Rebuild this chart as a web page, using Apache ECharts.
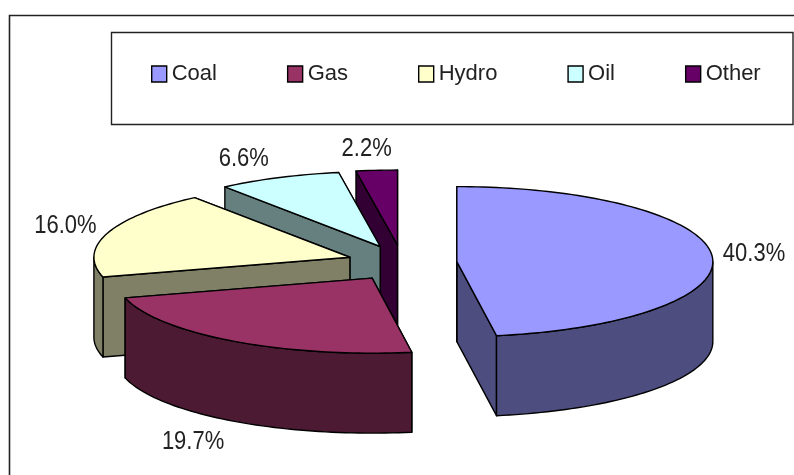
<!DOCTYPE html>
<html>
<head>
<meta charset="utf-8">
<style>html,body{margin:0;padding:0;background:#fff}#chart{width:794px;height:475px}</style>
<script src="https://cdn.jsdelivr.net/npm/echarts@6/dist/echarts.min.js"></script>
</head>
<body>
<div id="chart"></div>
<script>
// Fuel mix, drawn as an exploded 3D pie. Slices take their share of the listed total.
const categories = ['Coal', 'Gas', 'Hydro', 'Oil', 'Other'];
const shares = [40.3, 19.7, 16.0, 6.6, 2.2];

const topColors = ['#9999FF', '#993366', '#FFFFCC', '#CCFFFF', '#660066'];
const wallColors = ['#4D4D80', '#4D1A33', '#808066', '#668080', '#330033'];

// Pie projection: centre, ellipse radii, extrusion depth and explosion offset, in pixels.
const pie = { cx: 402, cy: 263, rx: 256, ry: 75, depth: 80, ex: 55, ey: 18 };
// Label nudges from the rim midpoint of each slice.
const labelNudge = [[42, -2], [-40, 21], [-42, -7], [-35, -19], [-10, -22]];
// Back slices are painted first so nearer ones cover them.
const paintOrder = { Other: 1, Oil: 2, Hydro: 3, Gas: 4, Coal: 5 };
const textFont = '"Liberation Sans", sans-serif';

const total = shares.reduce((a, b) => a + b, 0);
const startFractions = [];
shares.reduce((acc, v, i) => { startFractions[i] = acc / total; return acc + v; }, 0);

const DEG = Math.PI / 180;

function renderSlice(index) {
  return function (params, api) {
    const value = api.value(0);
    const a0 = startFractions[index] * 360;
    const a1 = a0 + value / total * 360;
    const mid = (a0 + a1) / 2;
    const ax = pie.cx + pie.ex * Math.sin(mid * DEG);
    const ay = pie.cy - pie.ey * Math.cos(mid * DEG);
    const rim = deg => [ax + pie.rx * Math.sin(deg * DEG), ay - pie.ry * Math.cos(deg * DEG)];
    const down = p => [p[0], p[1] + pie.depth];

    const sample = (from, to) => {
      const pts = [];
      const n = Math.max(2, Math.ceil((to - from) / 1.5));
      for (let i = 0; i <= n; i++) pts.push(rim(from + (to - from) * i / n));
      return pts;
    };
    const stroke = { stroke: '#000', lineWidth: 1.4, lineJoin: 'round' };
    const wallStyle = Object.assign({ fill: wallColors[index] }, stroke);
    const cut = deg => ({
      type: 'polygon',
      shape: { points: [[ax, ay], rim(deg), down(rim(deg)), down([ax, ay])] },
      style: wallStyle
    });

    const children = [cut(a1), cut(a0)];

    // The rim wall only shows on the near half of the ellipse.
    const w0 = Math.max(a0, 90), w1 = Math.min(a1, 270);
    if (w1 > w0) {
      const arc = sample(w0, w1);
      children.push({
        type: 'polygon',
        shape: { points: arc.concat(arc.map(down).reverse()) },
        style: wallStyle
      });
    }

    children.push({
      type: 'polygon',
      shape: { points: [[ax, ay]].concat(sample(a0, a1)) },
      style: Object.assign({ fill: topColors[index] }, stroke)
    });

    // Labels of near slices sit below the wall rather than at the rim.
    const rimMid = rim(mid);
    const wallDrop = Math.cos(mid * DEG) < 0 ? pie.depth : 0;
    children.push({
      type: 'text',
      x: rimMid[0] + labelNudge[index][0],
      y: rimMid[1] + wallDrop + labelNudge[index][1],
      scaleY: 1.2,
      style: {
        text: value.toFixed(1) + '%',
        x: 0,
        y: 0,
        align: 'center',
        verticalAlign: 'middle',
        fontFamily: textFont,
        fontSize: 22,
        fill: '#222'
      }
    });
    return { type: 'group', children: children };
  };
}

const chart = echarts.init(document.getElementById('chart'), null, { renderer: 'canvas' });
chart.setOption({
  animation: false,
  backgroundColor: '#fff',
  legend: {
    left: 151,
    top: 63,
    width: 640,
    padding: 0,
    itemGap: 70,
    itemWidth: 15,
    itemHeight: 16,
    icon: 'rect',
    selectedMode: false,
    textStyle: { fontFamily: textFont, fontSize: 22, color: '#222', padding: [0, 0, 8, 0] },
    data: categories.map((name, i) => ({
      name: name,
      itemStyle: { color: topColors[i], borderColor: '#000', borderWidth: 1.4 }
    }))
  },
  graphic: [
    {
      type: 'polyline', silent: true,
      shape: { points: [[9.5, 475], [9.5, 15.5], [794, 15.5]] },
      style: { fill: null, stroke: '#222', lineWidth: 1.6 }
    },
    {
      type: 'rect', silent: true,
      shape: { x: 111.5, y: 32.5, width: 681.5, height: 92 },
      style: { fill: '#fff', stroke: '#222', lineWidth: 1.4 }
    }
  ],
  series: categories.map((name, i) => ({
    type: 'custom',
    name: name,
    coordinateSystem: 'none',
    silent: true,
    z: paintOrder[name],
    itemStyle: { color: topColors[i] },
    renderItem: renderSlice(i),
    data: [[shares[i]]]
  }))
});
</script>
</body>
</html>
